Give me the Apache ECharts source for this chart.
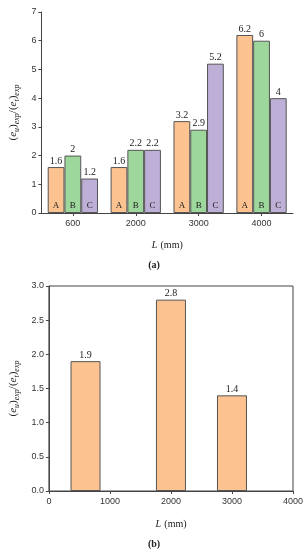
<!DOCTYPE html>
<html><head><meta charset="utf-8">
<script src="https://cdn.jsdelivr.net/npm/echarts@6/dist/echarts.min.js"></script>
<style>html,body{margin:0;padding:0;background:#fff}#c{width:308px;height:550px}</style>
</head><body><div id="c"></div>
<script>
var categoriesA = ['600', '2000', '3000', '4000'];
var seriesNames = ['A', 'B', 'C'];
var valuesA = [1.6, 1.6, 3.2, 6.2];
var valuesB = [2, 2.2, 2.9, 6];
var valuesC = [1.2, 2.2, 5.2, 4];
var lengthsB = [600, 2000, 3000];
var ratiosB = [1.9, 2.8, 1.4];
var yTicksA = [0, 7, 1];
var yTicksB = [0, 3, 0.5];
var xTicksB = [0, 4000, 1000];

var colors = ['#FCC391', '#9DD79B', '#BEAFD7'];
var serif = '"Liberation Serif", "DejaVu Serif", serif';
var sans = '"Liberation Sans", Arial, sans-serif';
var axisCol = '#444';

var yName = '{n|(}{i|e}{s|u}{n|)}{s|exp}{n|/(}{i|e}{s|t}{n|)}{s|exp}';
var yNameRich = {
  n: {fontFamily: serif, fontSize: 11, color: '#222'},
  i: {fontFamily: serif, fontSize: 11, fontStyle: 'italic', color: '#222'},
  s: {fontFamily: serif, fontSize: 8, fontStyle: 'italic', color: '#222', verticalAlign: 'bottom', padding: [6, 0, 0, 0]}
};
var xName = '{i|L} {n|(mm)}';
var xNameRich = {
  n: {fontFamily: serif, fontSize: 10, color: '#222'},
  i: {fontFamily: serif, fontSize: 10, fontStyle: 'italic', color: '#222'}
};

var groups = [valuesA, valuesB, valuesC];
var seriesTop = groups.map(function (vals, k) {
  return {
    type: 'bar', xAxisIndex: 0, yAxisIndex: 0, name: seriesNames[k],
    data: vals,
    barGap: '0%', barCategoryGap: '20%',
    itemStyle: {color: colors[k], borderColor: '#555', borderWidth: 1},
    label: {show: true, position: 'top', distance: 1, fontFamily: serif, fontSize: 10, color: '#222'},
    silent: true
  };
});
var seriesLetters = groups.map(function (vals, k) {
  return {
    type: 'bar', xAxisIndex: 2, yAxisIndex: 0, name: seriesNames[k] + ' letter',
    data: vals,
    barGap: '0%', barCategoryGap: '20%',
    itemStyle: {color: 'rgba(0,0,0,0)'},
    label: {show: true, position: 'insideBottom', distance: 3, formatter: seriesNames[k], fontFamily: serif, fontSize: 9, color: '#222'},
    silent: true, z: 5
  };
});

var option = {
  animation: false,
  title: [
    {text: '{n|(}{b|a}{n|)}', left: 'center', top: 255, textStyle: {rich: {n: {fontFamily: serif, fontSize: 10, color: '#222'}, b: {fontFamily: serif, fontSize: 10, fontWeight: 'bold', color: '#222'}}}},
    {text: '{n|(}{b|b}{n|)}', left: 'center', top: 534, textStyle: {rich: {n: {fontFamily: serif, fontSize: 10, color: '#222'}, b: {fontFamily: serif, fontSize: 10, fontWeight: 'bold', color: '#222'}}}}
  ],
  grid: [
    {left: 41, top: 12, width: 252, height: 201},
    {left: 39, top: 286, width: 254, height: 205, show: true, borderColor: axisCol, borderWidth: 1}
  ],
  xAxis: [
    {type: 'category', gridIndex: 0, data: categoriesA,
     axisLine: {lineStyle: {color: axisCol}}, axisTick: {show: true, alignWithLabel: true, length: 3, lineStyle: {color: axisCol}},
     axisLabel: {fontFamily: sans, fontSize: 9, color: '#333', margin: 6},
     name: xName, nameLocation: 'middle', nameGap: 26, nameTextStyle: {rich: xNameRich}},
    {type: 'value', gridIndex: 1, min: xTicksB[0], max: xTicksB[1], interval: xTicksB[2],
     axisLine: {show: true, lineStyle: {color: axisCol}}, axisTick: {show: true, length: 3, lineStyle: {color: axisCol}},
     splitLine: {show: false},
     axisLabel: {fontFamily: sans, fontSize: 9, color: '#333', margin: 6, formatter: function (v) { return String(v); }},
     name: xName, nameLocation: 'middle', nameGap: 27, nameTextStyle: {rich: xNameRich}},
    {type: 'category', gridIndex: 0, data: categoriesA, show: false}
  ],
  yAxis: [
    {type: 'value', gridIndex: 0, min: yTicksA[0], max: yTicksA[1], interval: yTicksA[2],
     axisLine: {show: true, lineStyle: {color: axisCol}}, axisTick: {show: true, length: 3, lineStyle: {color: axisCol}},
     splitLine: {show: false},
     axisLabel: {fontFamily: sans, fontSize: 9, color: '#333', margin: 5},
     name: yName, nameLocation: 'middle', nameRotate: 90, nameGap: 20, nameTextStyle: {rich: yNameRich}},
    {type: 'value', gridIndex: 1, min: yTicksB[0], max: yTicksB[1], interval: yTicksB[2],
     axisLine: {show: true, lineStyle: {color: axisCol}}, axisTick: {show: true, length: 3, lineStyle: {color: axisCol}},
     splitLine: {show: false},
     axisLabel: {fontFamily: sans, fontSize: 9, color: '#333', margin: 5, formatter: function (v) { return v.toFixed(1); }},
     name: yName, nameLocation: 'middle', nameRotate: 90, nameGap: 24, nameTextStyle: {rich: yNameRich}}
  ],
  series: seriesTop.concat(seriesLetters).concat([
    {
      type: 'bar', xAxisIndex: 1, yAxisIndex: 1,
      data: lengthsB.map(function (l, i) { return [l, ratiosB[i]]; }),
      barWidth: 30,
      itemStyle: {color: colors[0], borderColor: '#555', borderWidth: 1},
      label: {show: true, position: 'top', distance: 1, fontFamily: serif, fontSize: 10, color: '#222', formatter: function (p) { return p.value[1]; }},
      silent: true
    }
  ])
};
var chart = echarts.init(document.getElementById('c'), null, {renderer: 'canvas'});
chart.setOption(option);
</script></body></html>
